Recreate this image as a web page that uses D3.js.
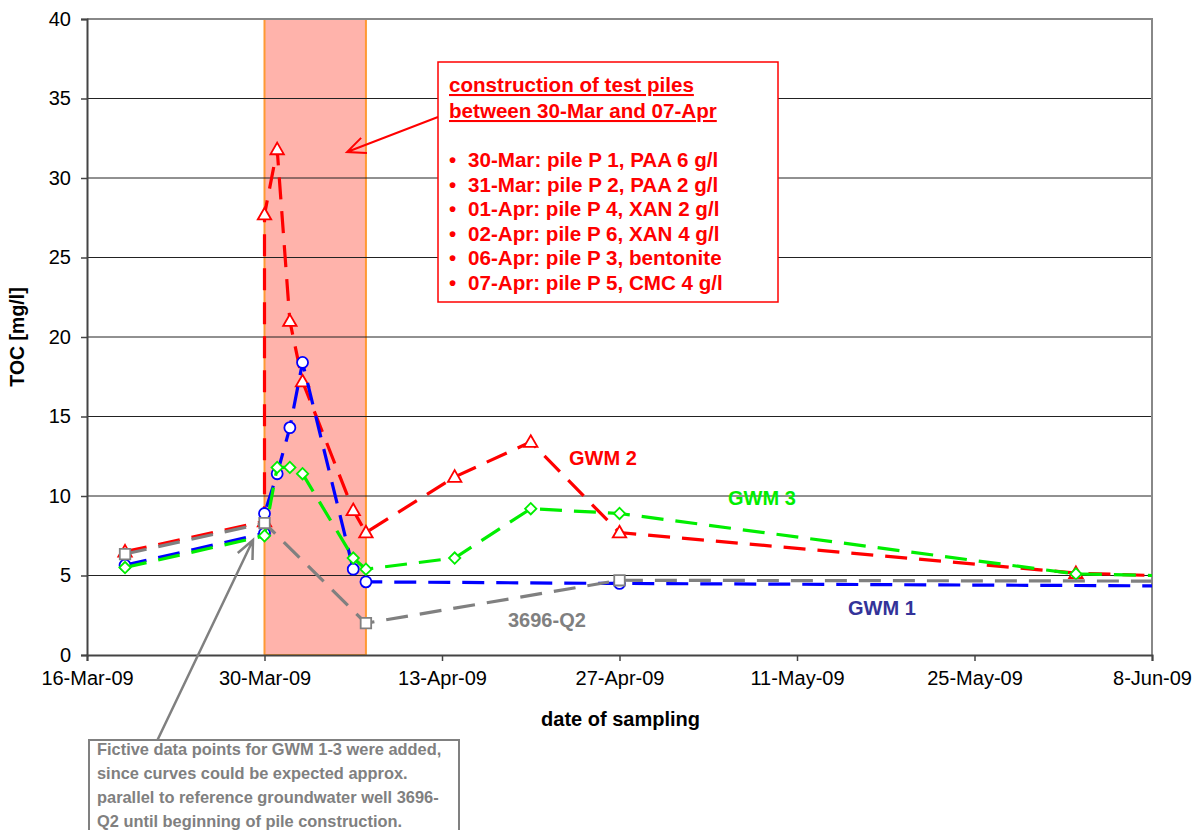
<!DOCTYPE html>
<html>
<head>
<meta charset="utf-8">
<script src="https://cdn.jsdelivr.net/npm/d3@7"></script>
<style>
    body { margin: 0; background: #fff; }
    svg { display: block; font-family: "Liberation Sans", Arial, sans-serif; }
</style>
</head>
<body>
<svg id="chart" width="1201" height="830"></svg>
<script>
// Axis ticks and labels
const tickDates = ["2009-03-16", "2009-03-30", "2009-04-13", "2009-04-27", "2009-05-11", "2009-05-25", "2009-06-08"];
const tickLabels = ["16-Mar-09", "30-Mar-09", "13-Apr-09", "27-Apr-09", "11-May-09", "25-May-09", "8-Jun-09"];
const yTicks = [0, 5, 10, 15, 20, 25, 30, 35, 40];

// GWM 2 (red triangles)
const gwm2Dates = ["2009-03-19", "2009-03-30", "2009-03-30", "2009-03-31", "2009-04-01", "2009-04-02", "2009-04-06", "2009-04-07", "2009-04-14", "2009-04-20", "2009-04-27", "2009-06-02", "2009-06-08"];
const gwm2Values = [6.5, 8.4, 27.7, 31.8, 21.0, 17.2, 9.1, 7.7, 11.2, 13.4, 7.7, 5.15, 5.0];

// GWM 1 (blue circles)
const gwm1Dates = ["2009-03-19", "2009-03-30", "2009-03-30", "2009-03-31", "2009-04-01", "2009-04-02", "2009-04-06", "2009-04-07", "2009-04-27", "2009-06-08"];
const gwm1Values = [5.65, 7.65, 8.9, 11.4, 14.3, 18.4, 5.4, 4.6, 4.5, 4.35];

// GWM 3 (green diamonds)
const gwm3Dates = ["2009-03-19", "2009-03-30", "2009-03-31", "2009-04-01", "2009-04-02", "2009-04-06", "2009-04-07", "2009-04-14", "2009-04-20", "2009-04-27", "2009-06-02", "2009-06-08"];
const gwm3Values = [5.5, 7.5, 11.8, 11.8, 11.4, 6.1, 5.4, 6.1, 9.2, 8.9, 5.1, 5.0];

// reference well 3696-Q2 (grey squares)
const q2Dates = ["2009-03-19", "2009-03-30", "2009-04-07", "2009-04-27", "2009-06-08"];
const q2Values = [6.35, 8.3, 2.0, 4.7, 4.65];

// pile construction period
const constructionPeriod = ["2009-03-30", "2009-04-07"];

// annotation texts
const noteTitle = ["construction of test piles", "between 30-Mar and 07-Apr"];
const noteItems = [
    "30-Mar: pile P 1, PAA 6 g/l",
    "31-Mar: pile P 2, PAA 2 g/l",
    "01-Apr: pile P 4, XAN 2 g/l",
    "02-Apr: pile P 6, XAN 4 g/l",
    "06-Apr: pile P 3, bentonite",
    "07-Apr: pile P 5, CMC 4 g/l",
];
const fictiveNote = [
    "Fictive data points for GWM 1-3 were added,",
    "since curves could be expected approx.",
    "parallel to reference groundwater well 3696-",
    "Q2 until beginning of pile construction.",
];

const parse = d3.utcParse("%Y-%m-%d");

const svg = d3.select("#chart");
const plotLeft = 87, plotRight = 1152, plotTop = 19, plotBottom = 655;

const x = d3.scaleUtc()
    .domain([parse(tickDates[0]), parse(tickDates[tickDates.length - 1])])
    .range([plotLeft, plotRight]);

const y = d3.scaleLinear()
    .domain([0, 40])
    .range([plotBottom, plotTop]);

// shaded construction period (drawn under gridlines like Excel)
svg.append("rect")
    .attr("x", x(parse(constructionPeriod[0])))
    .attr("y", plotTop)
    .attr("width", x(parse(constructionPeriod[1])) - x(parse(constructionPeriod[0])))
    .attr("height", plotBottom - plotTop)
    .attr("fill", "#ffb3ab")
    .attr("stroke", "#ff9933")
    .attr("stroke-width", 2);

// horizontal gridlines
svg.append("g")
    .selectAll("line")
    .data(yTicks.filter(d => d > 0 && d < 40))
    .join("line")
    .attr("x1", plotLeft)
    .attr("x2", plotRight)
    .attr("y1", d => y(d))
    .attr("y2", d => y(d))
    .attr("stroke", "#222")
    .attr("stroke-width", 1);

// plot area border (top + right)
svg.append("path")
    .attr("d", `M${plotLeft},${y(40)}H${plotRight}V${plotBottom}`)
    .attr("fill", "none")
    .attr("stroke", "#888")
    .attr("stroke-width", 2);

// x axis
const xAxis = d3.axisBottom(x)
    .tickValues(tickDates.map(parse))
    .tickFormat((d, i) => tickLabels[i])
    .tickSize(6)
    .tickPadding(10);

const gx = svg.append("g")
    .attr("transform", `translate(0,${plotBottom})`)
    .call(xAxis);
gx.select(".domain").attr("stroke", "#444").attr("stroke-width", 2);
gx.selectAll(".tick line").attr("stroke", "#444").attr("stroke-width", 1.5);
gx.selectAll("text")
    .attr("fill", "#000")
    .style("font-size", "20px")
    .style("font-family", "Liberation Sans, Arial, sans-serif");

// y axis
const yAxis = d3.axisLeft(y)
    .tickValues(yTicks)
    .tickSize(6)
    .tickPadding(10);

const gy = svg.append("g")
    .attr("transform", `translate(${plotLeft},0)`)
    .call(yAxis);
gy.select(".domain").attr("stroke", "#444").attr("stroke-width", 2);
gy.selectAll(".tick line").attr("stroke", "#444").attr("stroke-width", 1.5);
gy.selectAll("text")
    .attr("fill", "#000")
    .style("font-size", "20px")
    .style("font-family", "Liberation Sans, Arial, sans-serif");

// axis titles
svg.append("text")
    .attr("transform", `translate(24,${(plotTop + plotBottom) / 2}) rotate(-90)`)
    .attr("text-anchor", "middle")
    .attr("font-weight", "bold")
    .attr("font-size", 19.5)
    .text("TOC [mg/l]");

svg.append("text")
    .attr("x", (plotLeft + plotRight) / 2 + 1)
    .attr("y", 726)
    .attr("text-anchor", "middle")
    .attr("font-weight", "bold")
    .attr("font-size", 20)
    .text("date of sampling");

// series
const series = [
    { name: "GWM 2", dates: gwm2Dates, values: gwm2Values, color: "#ff0000", shape: "triangle" },
    { name: "GWM 1", dates: gwm1Dates, values: gwm1Values, color: "#0000ff", shape: "circle" },
    { name: "GWM 3", dates: gwm3Dates, values: gwm3Values, color: "#00ee00", shape: "diamond" },
    { name: "3696-Q2", dates: q2Dates, values: q2Values, color: "#808080", shape: "square" },
];

const line = d3.line()
    .x(d => x(d.date))
    .y(d => y(d.value));

const symbols = {
    triangle: d3.symbol(d3.symbolTriangle, 78),
    circle: d3.symbol(d3.symbolCircle, 95),
    diamond: d3.symbol(d3.symbolSquare, 64),
    square: d3.symbol(d3.symbolSquare, 110),
};

const end = x.domain()[1];

series.forEach(s => {
    const pts = s.dates.map((d, i) => ({ date: parse(d), value: s.values[i] }));
    const g = svg.append("g").attr("class", "series");

    g.append("path")
        .datum(pts)
        .attr("d", line)
        .attr("fill", "none")
        .attr("stroke", s.color)
        .attr("stroke-width", 3.2)
        .attr("stroke-dasharray", "22,12");

    // last point sits on the chart edge without a marker
    g.selectAll("path.marker")
        .data(pts.filter(d => d.date < end))
        .join("path")
        .attr("class", "marker")
        .attr("transform", d => {
            let t = `translate(${x(d.date)},${y(d.value)})`;
            if (s.shape === "diamond") t += " rotate(45)";
            if (s.shape === "triangle") t += " translate(0,1)";
            return t;
        })
        .attr("d", symbols[s.shape])
        .attr("fill", "#fff")
        .attr("stroke", s.color)
        .attr("stroke-width", 1.8);
});

// series labels
const seriesLabels = [
    { text: "GWM 2", x: 569, y: 465, color: "#ff0000" },
    { text: "GWM 3", x: 728, y: 505, color: "#00ee00" },
    { text: "GWM 1", x: 848, y: 615, color: "#333399" },
    { text: "3696-Q2", x: 508, y: 627, color: "#808080" },
];
svg.append("g")
    .selectAll("text")
    .data(seriesLabels)
    .join("text")
    .attr("x", d => d.x)
    .attr("y", d => d.y)
    .attr("fill", d => d.color)
    .attr("font-weight", "bold")
    .attr("font-size", 20)
    .text(d => d.text);

// arrow helper: open arrowhead at (x2,y2)
function arrow(x1, y1, x2, y2, color, width) {
    const a = Math.atan2(y1 - y2, x1 - x2);
    const len = 20, spread = 0.42;
    svg.append("path")
        .attr("d", `M${x1},${y1}L${x2},${y2}` +
            `M${x2 + len * Math.cos(a + spread)},${y2 + len * Math.sin(a + spread)}` +
            `L${x2},${y2}` +
            `L${x2 + len * Math.cos(a - spread)},${y2 + len * Math.sin(a - spread)}`)
        .attr("fill", "none")
        .attr("stroke", color)
        .attr("stroke-width", width);
}

// construction note
arrow(438, 117, 347, 152, "#ff0000", 2);

const note = svg.append("g");
note.append("rect")
    .attr("x", 438).attr("y", 62)
    .attr("width", 340).attr("height", 240)
    .attr("fill", "#fff")
    .attr("stroke", "#ff0000")
    .attr("stroke-width", 1.5);

note.selectAll("text.title")
    .data(noteTitle)
    .join("text")
    .attr("class", "title")
    .attr("x", 449)
    .attr("y", (d, i) => 92 + i * 26)
    .attr("fill", "#ff0000")
    .attr("font-weight", "bold")
    .attr("font-size", 20.6)
    .attr("text-decoration", "underline")
    .text(d => d);

note.selectAll("text.item")
    .data(noteItems)
    .join("text")
    .attr("class", "item")
    .attr("y", (d, i) => 167 + i * 24.6)
    .attr("fill", "#ff0000")
    .attr("font-weight", "bold")
    .attr("font-size", 20.6)
    .call(t => {
        t.append("tspan").attr("x", 449).text("\u2022");
        t.append("tspan").attr("x", 468).text(d => d);
    });

// fictive data note
arrow(157, 741, 253, 540, "#808080", 2.5);

const fict = svg.append("g");
fict.append("rect")
    .attr("x", 89).attr("y", 740)
    .attr("width", 370).attr("height", 110)
    .attr("fill", "#fff")
    .attr("stroke", "#808080")
    .attr("stroke-width", 2);

fict.selectAll("text")
    .data(fictiveNote)
    .join("text")
    .attr("x", 97)
    .attr("y", (d, i) => 755 + i * 24)
    .attr("fill", "#808080")
    .attr("font-weight", "bold")
    .attr("font-size", 16.4)
    .text(d => d);
</script>
</body>
</html>
